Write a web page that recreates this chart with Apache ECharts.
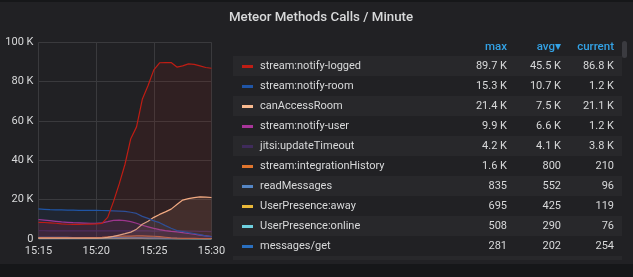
<!DOCTYPE html>
<html><head><meta charset="utf-8">
<script src="https://cdn.jsdelivr.net/npm/echarts@6/dist/echarts.min.js"></script>
<style>html,body{margin:0;padding:0;background:#212124;}#c{width:633px;height:277px;}</style>
</head><body><div id="c"></div>
<script>
// time categories: 15:15 .. 15:30 every 30 s
const times = [];
for (let i = 0; i <= 30; i++) {
  const m = 15 + Math.floor(i / 2);
  times.push('15:' + m + (i % 2 ? ':30' : ''));
}
const yTicks = [0, 20, 40, 60, 80, 100]; // K

// values in K calls / minute
const notifyLogged = [8.5,8.4,8.2,8.0,7.7,7.5,7.4,7.4,7.5,7.6,7.7,7.9,11,19,28,38,51,57,71,78,86,89.6,89.7,89.7,87.4,88,89,88.8,88,87.2,86.8];
const notifyRoom   = [15.3,15.1,14.9,14.8,14.8,14.7,14.7,14.6,14.6,14.6,14.6,14.5,14.4,14.3,14.2,14.0,13.6,13.0,11.5,10.5,9.2,8.3,6.8,5.5,4.3,3.8,3.2,2.8,2.2,1.6,1.2];
const canAccessRoom= [0.4,0.4,0.4,0.4,0.4,0.4,0.4,0.4,0.4,0.4,0.4,0.5,0.8,1.3,2.0,2.7,3.5,5.0,7.5,9.0,11.0,12.5,13.8,15.2,17.5,19.8,20.5,21.0,21.4,21.3,21.1];
const notifyUser   = [9.9,9.6,9.3,9.0,8.7,8.5,8.3,8.2,8.1,8.0,8.0,8.2,8.8,9.5,9.6,9.3,8.8,8.0,7.0,6.2,5.4,4.8,4.3,3.9,3.6,3.2,2.8,2.4,2.0,1.6,1.2];
const jitsiUpdate  = [4.2,4.2,4.1,4.1,4.2,4.1,4.1,4.2,4.1,4.1,4.1,4.2,4.1,4.1,4.1,4.2,4.1,4.1,4.1,4.1,4.0,4.1,4.1,4.0,4.0,4.1,4.0,4.0,3.9,3.9,3.8];
const integrationHistory = [0.7,0.7,0.65,0.65,0.65,0.65,0.6,0.6,0.65,0.65,0.7,0.8,1.1,1.3,1.4,1.5,1.5,1.6,1.6,1.5,1.4,1.2,0.9,0.6,0.45,0.35,0.3,0.28,0.25,0.22,0.21];
const readMessages = [0.80,0.82,0.835,0.81,0.79,0.78,0.76,0.75,0.74,0.72,0.70,0.69,0.68,0.67,0.65,0.64,0.62,0.60,0.56,0.52,0.47,0.42,0.37,0.32,0.28,0.24,0.20,0.17,0.14,0.11,0.096];
const presenceAway = [0.60,0.62,0.65,0.68,0.695,0.67,0.64,0.61,0.58,0.56,0.54,0.52,0.51,0.50,0.49,0.47,0.45,0.43,0.40,0.38,0.35,0.32,0.29,0.26,0.23,0.20,0.18,0.16,0.14,0.13,0.119];
const presenceOnline = [0.45,0.48,0.508,0.49,0.47,0.44,0.42,0.40,0.38,0.36,0.34,0.33,0.32,0.31,0.30,0.29,0.28,0.27,0.25,0.23,0.21,0.19,0.17,0.15,0.14,0.13,0.12,0.11,0.095,0.085,0.076];
const messagesGet  = [0.15,0.16,0.17,0.18,0.19,0.20,0.19,0.18,0.17,0.18,0.19,0.20,0.21,0.22,0.23,0.24,0.25,0.26,0.27,0.281,0.27,0.25,0.23,0.21,0.20,0.19,0.18,0.19,0.21,0.23,0.254];

const seriesNames = ['stream:notify-logged','stream:notify-room','canAccessRoom','stream:notify-user','jitsi:updateTimeout','stream:integrationHistory','readMessages','UserPresence:away','UserPresence:online','messages/get'];
const seriesColors = ['#BF1D14','#1F55A6','#F9BA8F','#A8359A','#3F2B5B','#E0752D','#5386C6','#EAB839','#6ED0E0','#2A6FBF'];
const seriesData = [notifyLogged, notifyRoom, canAccessRoom, notifyUser, jitsiUpdate, integrationHistory, readMessages, presenceAway, presenceOnline, messagesGet];
const statMax = ['89.7 K','15.3 K','21.4 K','9.9 K','4.2 K','1.6 K','835','695','508','281'];
const statAvg = ['45.5 K','10.7 K','7.5 K','6.6 K','4.1 K','800','552','425','290','202'];
const statCur = ['86.8 K','1.2 K','21.1 K','1.2 K','3.8 K','210','96','119','76','254'];
const headers = ['max','avg▾','current'];

const FONT = 'Roboto, "Noto Sans", sans-serif';
const chart = echarts.init(document.getElementById('c'), null, {renderer:'canvas'});

function txt(text, x, y, fill, font, align) {
  return {type:'text', silent:true, z:10, style:{text, x, y, fill, font, align, textAlign:align, verticalAlign:'middle', textVerticalAlign:'middle'}};
}
const g = [];
g.push({type:'rect', silent:true, shape:{x:0,y:0,width:633,height:2}, style:{fill:'#161719'}});
g.push({type:'rect', silent:true, shape:{x:0,y:264,width:633,height:13}, style:{fill:'#161719'}});
g.push({type:'rect', silent:true, shape:{x:622,y:41,width:5,height:17,r:2.5}, style:{fill:'#3b3b40'}});
const colX = [507, 561, 614];
headers.forEach((h, j) => g.push(txt(h, colX[j], 47, '#33A2E5', '500 11.5px ' + FONT, 'right')));
seriesNames.forEach((n, i) => {
  const yc = 66 + 20 * i;
  if (i % 2 === 0) g.push({type:'rect', silent:true, shape:{x:233,y:yc-10,width:389,height:20}, style:{fill:'#28282b'}});
  g.push({type:'rect', silent:true, z:10, shape:{x:242,y:yc-1,width:11,height:3}, style:{fill:seriesColors[i]}});
  g.push(txt(n, 260, yc, '#d8d9da', '11px ' + FONT, 'left'));
  g.push(txt(statMax[i], colX[0], yc, '#d8d9da', '11px ' + FONT, 'right'));
  g.push(txt(statAvg[i], colX[1], yc, '#d8d9da', '11px ' + FONT, 'right'));
  g.push(txt(statCur[i], colX[2], yc, '#d8d9da', '11px ' + FONT, 'right'));
});
g.push({type:'rect', silent:true, shape:{x:233,y:256,width:389,height:4}, style:{fill:'#28282b'}});

chart.setOption({
  backgroundColor:'#212124',
  animation:false,
  title:{text:'Meteor Methods Calls / Minute', left:316, top:6, textAlign:'center',
    textStyle:{color:'#d8d9da', fontSize:13.3, fontWeight:500, fontFamily:FONT}},
  grid:{left:38.5, right:421.5, top:42.3, bottom:38, containLabel:false, outerBoundsMode:'none'},
  xAxis:{type:'category', data:times, boundaryGap:false,
    axisLine:{show:false}, axisTick:{show:false},
    axisLabel:{color:'#d8d9da', fontSize:11, fontFamily:FONT, margin:7,
      interval:(i)=>i%10===0, formatter:(v)=>v},
    splitLine:{show:true, interval:(i)=>i%10===0, lineStyle:{color:'#3a3a3d', width:1}}},
  yAxis:{type:'value', min:yTicks[0], max:yTicks[yTicks.length-1], interval:20,
    axisLine:{show:false}, axisTick:{show:false},
    axisLabel:{color:'#d8d9da', fontSize:11, fontFamily:FONT, margin:5,
      formatter:(v)=> v===0 ? '0' : v + ' K'},
    splitLine:{lineStyle:{color:'#3a3a3d', width:1}}},
  graphic:g,
  series: seriesNames.map((n, i) => ({
    name:n, type:'line', data:seriesData[i], showSymbol:false, symbol:'none',
    lineStyle:{color:seriesColors[i], width:1.2},
    itemStyle:{color:seriesColors[i]},
    areaStyle:{color:seriesColors[i], opacity:0.1},
    z: 2 + (seriesNames.length - i) * 0.01
  }))
});
</script></body></html>
